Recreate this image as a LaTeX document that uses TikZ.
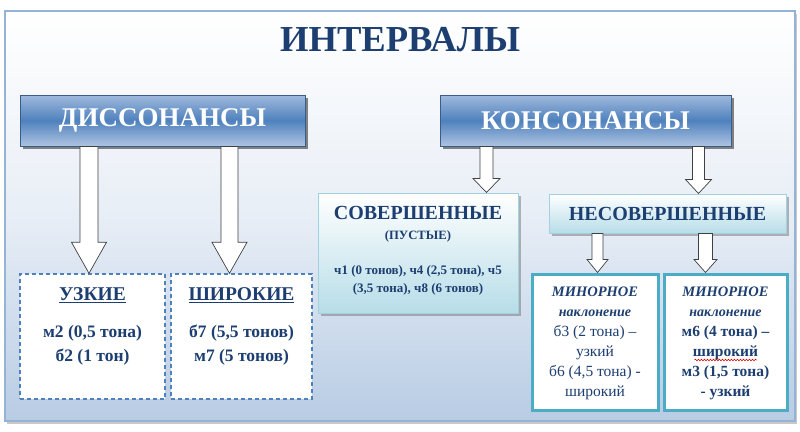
\documentclass[tikz,border=0pt]{standalone}
\usepackage{fontspec}
\setmainfont{Liberation Serif}
\usetikzlibrary{calc,shadows,decorations.pathmorphing}
\definecolor{dblue}{RGB}{28,62,112}
\definecolor{framebd}{RGB}{149,179,215}
\definecolor{framebot}{RGB}{184,204,228}
\definecolor{framemid}{RGB}{232,238,246}
\definecolor{bluemid}{RGB}{79,129,189}
\definecolor{bluelt}{RGB}{160,186,221}
\definecolor{bluebd}{RGB}{56,93,138}
\definecolor{cyanlt}{RGB}{183,221,232}
\definecolor{cyanbd}{RGB}{160,210,225}
\definecolor{teal}{RGB}{75,172,198}
\definecolor{dashbl}{RGB}{79,129,189}
\tikzset{
  frame/.style={draw=framebd, line width=1.5pt, top color=white, bottom color=framebot, middle color=framemid, inner sep=0pt,
    drop shadow={shadow xshift=2pt, shadow yshift=-3pt, opacity=0.35, fill=black!60}},
  headbox/.style={draw=bluebd, line width=0.8pt, top color=bluelt, bottom color=bluelt!85!white, middle color=bluemid, inner sep=0pt,
    drop shadow={shadow xshift=2.5pt, shadow yshift=-2.5pt, opacity=0.6, fill=black!80}},
  dashbox/.style={draw=dashbl, line width=1.4pt, dash pattern=on 4pt off 3pt, fill=white, inner sep=0pt},
  cyanbox/.style={draw=cyanbd, line width=1pt, top color=white, bottom color=cyanlt, inner sep=0pt,
    drop shadow={shadow xshift=2.5pt, shadow yshift=-2.5pt, opacity=0.45, fill=black!60}},
  tealbox/.style={draw=teal, line width=3pt, fill=white, inner sep=0pt},
  barrow/.style={draw=black!75, line width=0.7pt, fill=white},
  txt/.style={text=dblue, align=center, inner sep=0pt},
  wavy/.style={draw=red!85!black, line width=0.6pt, decorate, decoration={snake, amplitude=0.8pt, segment length=3pt}}
}
\newcommand\mybarrow[6]{%
  \draw[barrow] let \p1=(#2.south), \p2=(#3.north) in
    (#1pt-#4pt,\y1) -- (#1pt-#4pt,\y2+#6pt) -- (#1pt-#5pt,\y2+#6pt) -- (#1pt,\y2)
    -- (#1pt+#5pt,\y2+#6pt) -- (#1pt+#4pt,\y2+#6pt) -- (#1pt+#4pt,\y1) -- cycle;}
\begin{document}
\begin{tikzpicture}[x=1pt,y=-1pt]
\useasboundingbox (0,0) rectangle (800,431);
\fill[white] (0,0) rectangle (800,431);
\node[frame, minimum width=790pt, minimum height=410pt] (frame) at (400,216) {};
\node[txt, font=\fontsize{36.6}{38}\selectfont\bfseries] (title) at (400,40) {ИНТЕРВАЛЫ};

% header boxes
\node[headbox, minimum width=285pt, minimum height=51pt] (dis) at (162.5,120.5) {};
\node[txt, text=white, font=\fontsize{27}{28}\selectfont\bfseries] (disT) at (dis.center) {ДИССОНАНСЫ};
\node[headbox, minimum width=291pt, minimum height=51pt] (kons) at (585.5,120.5) {};
\node[txt, text=white, font=\fontsize{27}{28}\selectfont\bfseries] (konsT) at (kons.center) {КОНСОНАНСЫ};

% dissonance boxes
\node[dashbox, minimum width=145pt, minimum height=125pt] (uzk) at (92.5,336.5) {};
\node[txt, font=\fontsize{19.5}{20}\selectfont\bfseries] (uzkT) at (92.5,295) {\underline{УЗКИЕ}};
\node[txt, font=\fontsize{17.5}{24}\selectfont\bfseries] (uzkL) at (92.5,345) {м2 (0,5 тона)\\б2 (1 тон)};
\node[dashbox, minimum width=141pt, minimum height=125pt] (shir) at (241.5,336.5) {};
\node[txt, font=\fontsize{19.5}{20}\selectfont\bfseries] (shirT) at (241.5,295) {\underline{ШИРОКИЕ}};
\node[txt, font=\fontsize{17.5}{24}\selectfont\bfseries] (shirL) at (241.5,345) {б7 (5,5 тонов)\\м7 (5 тонов)};

% consonance boxes
\node[cyanbox, minimum width=200pt, minimum height=120pt] (sov) at (418,253) {};
\node[txt, font=\fontsize{20}{21}\selectfont\bfseries] (sovT) at (418,213) {СОВЕРШЕННЫЕ};
\node[txt, font=\fontsize{12.7}{13}\selectfont\bfseries] (sovS) at (418,236) {(ПУСТЫЕ)};
\node[txt, font=\fontsize{13}{18}\selectfont\bfseries] (sovL) at (418,280) {ч1 (0 тонов), ч4 (2,5 тона), ч5\\(3,5 тона), ч8 (6 тонов)};
\node[cyanbox, minimum width=237pt, minimum height=39pt] (nesov) at (667.5,213.5) {};
\node[txt, font=\fontsize{20}{21}\selectfont\bfseries] (nesovT) at (nesov.center) {НЕСОВЕРШЕННЫЕ};

\node[tealbox, minimum width=126pt, minimum height=136pt] (min1) at (595,342) {};
\node[txt, font=\fontsize{15.5}{20}\selectfont] (min1T) at (595,343) {{\bfseries\itshape\fontsize{14.5}{20}\selectfont МИНОРНОЕ}\\{\bfseries\itshape\fontsize{14}{20}\selectfont наклонение}\\б3 (2 тона) –\\узкий\\б6 (4,5 тона) -\\широкий};
\node[tealbox, minimum width=123pt, minimum height=136pt] (min2) at (725.5,342) {};
\node[txt, font=\fontsize{15.5}{20}\selectfont] (min2T) at (725.5,343) {{\bfseries\itshape\fontsize{14.5}{20}\selectfont МИНОРНОЕ}\\{\bfseries\itshape\fontsize{14}{20}\selectfont наклонение}\\{\bfseries м6 (4 тона) –}\\{\bfseries широкий}\\{\bfseries м3 (1,5 тона)}\\{\bfseries - узкий}};
\draw[wavy] ($(min2.center)+(-31,18)$) -- ($(min2.center)+(31,18)$);

% block arrows
\mybarrow{89}{dis}{uzk}{9}{17.5}{31}
\mybarrow{229.5}{dis}{shir}{8.5}{17.5}{31}
\mybarrow{486.5}{kons}{sov}{6.5}{13.5}{14}
\mybarrow{698.5}{kons}{nesov}{6}{13}{14}
\mybarrow{597.5}{nesov}{min1}{5.5}{10.5}{13}
\mybarrow{705.5}{nesov}{min2}{7}{11.5}{13}
\end{tikzpicture}
\end{document}
